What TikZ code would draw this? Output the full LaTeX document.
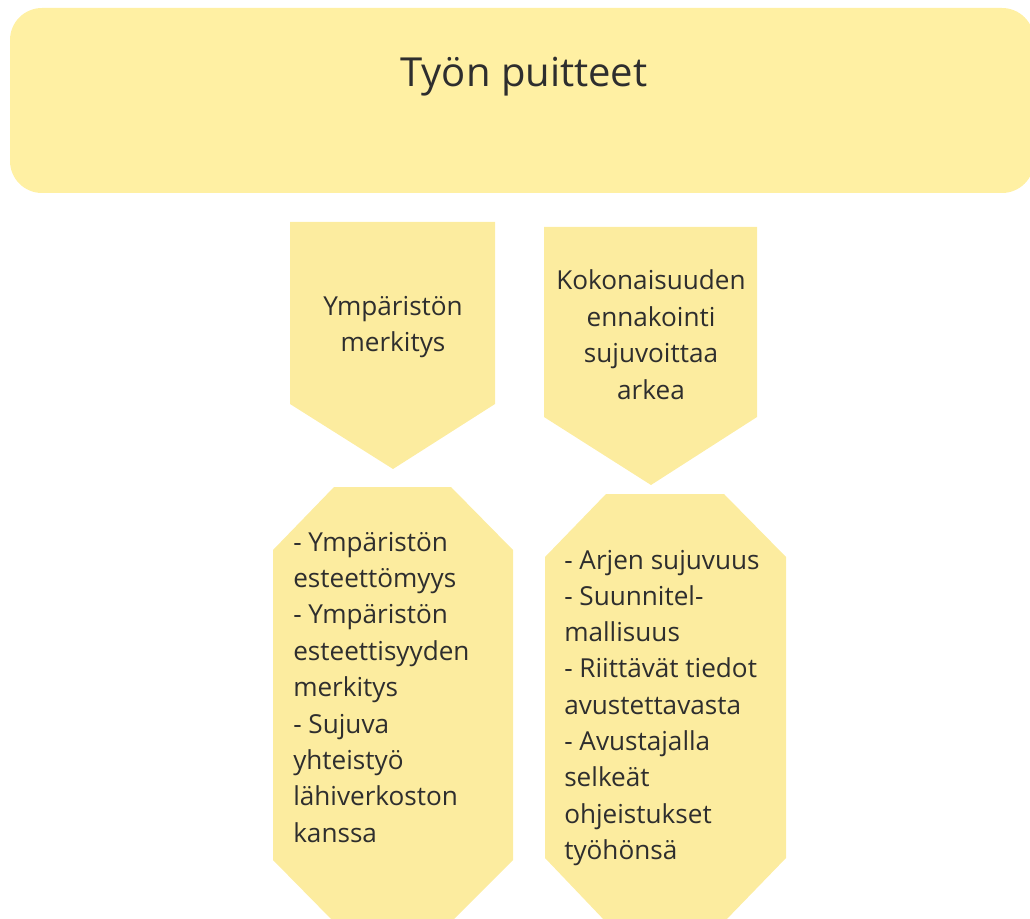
\documentclass[tikz,border=0pt]{standalone}
\usepackage{fontspec}
\setmainfont{Open Sans}
\definecolor{banner}{HTML}{FFF0A3}
\definecolor{boxfill}{HTML}{FCEC9F}
\definecolor{ink}{HTML}{2E2E2E}
\tikzset{
  txt/.style={inner sep=0pt, text=ink, font=\fontsize{19.6}{27}\selectfont},
  ttl/.style={inner sep=0pt, text=ink, font=\fontsize{30}{36}\selectfont},
  shapefill/.style={fill=boxfill, draw=none},
}
\begin{document}
\begin{tikzpicture}[x=0.75pt,y=-0.75pt]
\useasboundingbox (0,0) rectangle (1030,919);
\clip (0,0) rectangle (1030,919);
\fill[banner, rounded corners=24pt] (10,8) rectangle (1034,193);
\node[ttl, anchor=base] (title) at (524,87) {Työn puitteet};
% pentagons
\fill[shapefill] (290,222) -- (495,222) -- (495,404) -- (393,469) -- (290,404) -- cycle;
\fill[shapefill] (544,227) -- (757,227) -- (757,417) -- (651,485) -- (544,417) -- cycle;
% octagons
\fill[shapefill] (334,487) -- (451,487) -- (513,550) -- (513,860) -- (451,922) -- (334,922) -- (273,860) -- (273,550) -- cycle;
\fill[shapefill] (606,494) -- (724,494) -- (786,557) -- (786,858) -- (724,922) -- (606,922) -- (545,858) -- (545,557) -- cycle;
% pentagon texts
\foreach \t [count=\i] in {Ympäristön, merkitys}
  \node[txt, anchor=base, name=pa\i] at (393,{316+35.5*(\i-1)}) {\t};
\foreach \t [count=\i] in {Kokonaisuuden, ennakointi, sujuvoittaa, arkea}
  \node[txt, anchor=base, name=pb\i] at (651,{290+36.4*(\i-1)}) {\t};
% octagon texts
\foreach \t [count=\i] in {- Ympäristön, esteettömyys, - Ympäristön, esteettisyyden, merkitys, - Sujuva, yhteistyö, lähiverkoston, kanssa}
  \node[txt, anchor=base west, name=oa\i] at (293,{551+36.4*(\i-1)}) {\t};
\foreach \t [count=\i] in {- Arjen sujuvuus, - Suunnitel-, mallisuus, - Riittävät tiedot, avustettavasta, - Avustajalla, selkeät, ohjeistukset, työhönsä}
  \node[txt, anchor=base west, name=ob\i] at (564,{569+36.3*(\i-1)}) {\t};
\end{tikzpicture}
\end{document}
